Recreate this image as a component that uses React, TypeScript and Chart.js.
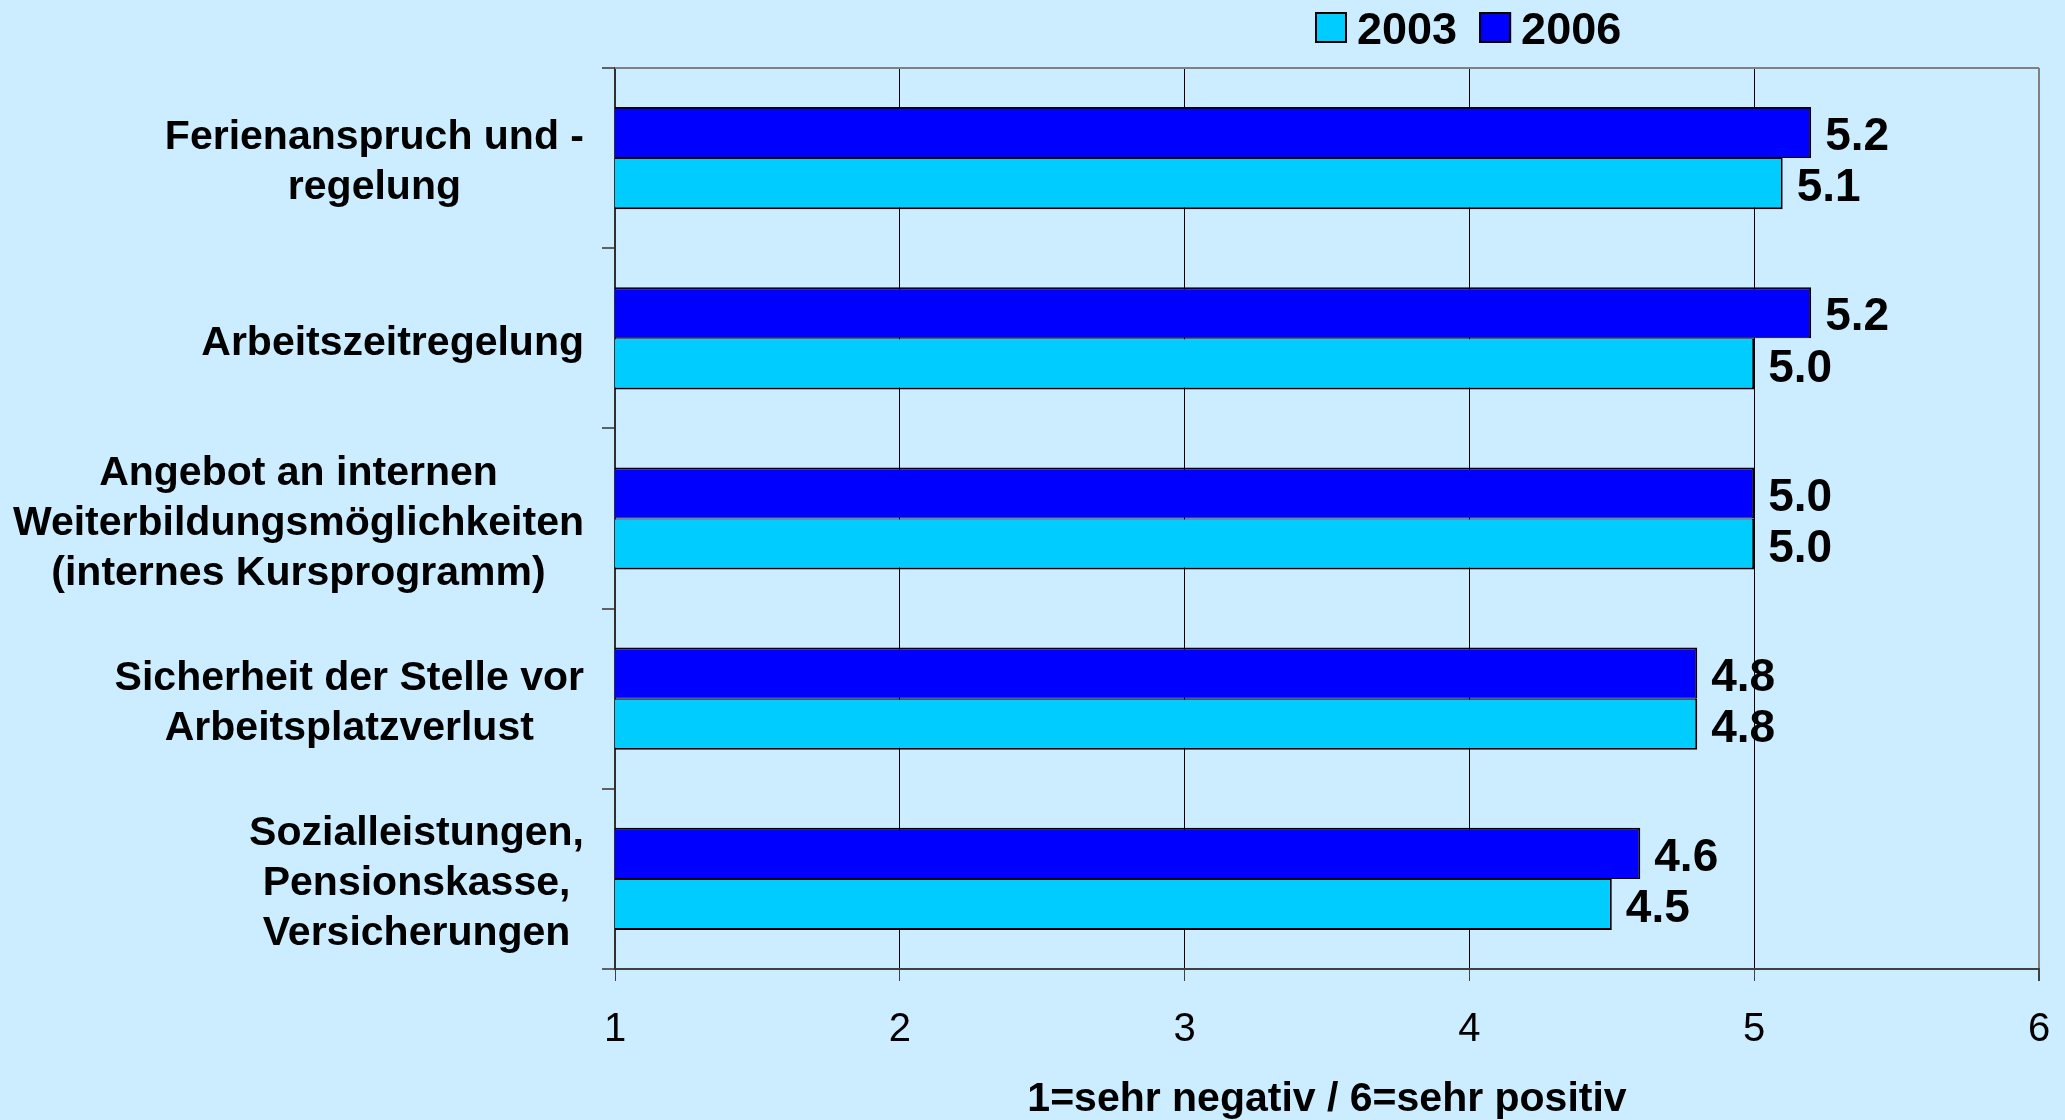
import React, { useEffect, useRef } from "react";
import { Chart, registerables } from "chart.js";

Chart.register(...registerables);

// ---- data ----
const categories: string[][] = [
  ["Ferienanspruch und -", "regelung"],
  ["Arbeitszeitregelung"],
  ["Angebot an internen", "Weiterbildungsmöglichkeiten", "(internes Kursprogramm)"],
  ["Sicherheit der Stelle vor", "Arbeitsplatzverlust"],
  ["Sozialleistungen,", "Pensionskasse,", "Versicherungen"],
];
const values2006 = [5.2, 5.2, 5.0, 4.8, 4.6];
const values2003 = [5.1, 5.0, 5.0, 4.8, 4.5];
const seriesNames = ["2006", "2003"];
const xMin = 1;
const xMax = 6;
const axisTitle = "1=sehr negativ / 6=sehr positiv";

// ---- styles ----
const BG = "#CCECFF";
const COLOR_2006 = "#0000FF";
const COLOR_2003 = "#00CCFF";
const FAMILY = '"Liberation Sans", Arial, Helvetica, sans-serif';

const bgPlugin = {
  id: "bg",
  beforeDraw(chart: any) {
    const { ctx, width, height } = chart;
    ctx.save();
    ctx.fillStyle = BG;
    ctx.fillRect(0, 0, width, height);
    ctx.restore();
  },
};

const valueLabelPlugin = {
  id: "valueLabels",
  afterDatasetsDraw(chart: any) {
    const { ctx } = chart;
    ctx.save();
    ctx.font = `bold 46px ${FAMILY}`;
    ctx.fillStyle = "#000";
    ctx.textAlign = "left";
    ctx.textBaseline = "middle";
    chart.data.datasets.forEach((ds: any, di: number) => {
      const meta = chart.getDatasetMeta(di);
      meta.data.forEach((el: any, i: number) => {
        const v = ds.data[i] as number;
        ctx.fillText(v.toFixed(1), el.x + 14, el.y + 5);
      });
    });
    ctx.restore();
  },
};

const decorPlugin = {
  id: "decor",
  afterDraw(chart: any) {
    const { ctx, chartArea } = chart;
    const yScale = chart.scales.y;
    ctx.save();
    // top frame line
    ctx.strokeStyle = "#808080";
    ctx.lineWidth = 2;
    ctx.beginPath();
    ctx.moveTo(chartArea.left, chartArea.top);
    ctx.lineTo(chartArea.right, chartArea.top);
    ctx.stroke();

    // category labels: centered block, right-aligned to axis
    ctx.font = `bold 41px ${FAMILY}`;
    ctx.fillStyle = "#000";
    ctx.textAlign = "center";
    ctx.textBaseline = "middle";
    const right = chartArea.left - 31;
    const lh = 50;
    (chart.data.labels as string[][]).forEach((lines, i) => {
      const cy = yScale.getPixelForValue(i);
      let w = 0;
      lines.forEach((l) => (w = Math.max(w, ctx.measureText(l).width)));
      const cx = right - w / 2;
      const y0 = cy - ((lines.length - 1) * lh) / 2;
      lines.forEach((l, k) => ctx.fillText(l, cx, y0 + k * lh + 5));
    });

    // legend (2003 first, then 2006)
    const items = chart.data.datasets.slice().reverse();
    let x = 1315;
    ctx.textAlign = "left";
    ctx.textBaseline = "alphabetic";
    ctx.font = `bold 45px ${FAMILY}`;
    items.forEach((ds: any) => {
      ctx.fillStyle = ds.backgroundColor;
      ctx.fillRect(x, 12, 32, 31);
      ctx.strokeStyle = "#000";
      ctx.lineWidth = 2;
      ctx.strokeRect(x + 1, 13, 30, 29);
      ctx.fillStyle = "#000";
      ctx.fillText(ds.label, x + 42, 44);
      x += 42 + ctx.measureText(ds.label).width + 22;
    });
    ctx.restore();
  },
};

export default function App() {
  const ref = useRef<HTMLCanvasElement | null>(null);

  useEffect(() => {
    if (!ref.current) return;
    const chart = new Chart(ref.current, {
      type: "bar",
      data: {
        labels: categories as any,
        datasets: [
          {
            label: seriesNames[0],
            data: values2006,
            backgroundColor: COLOR_2006,
            borderColor: "#000",
            borderWidth: { top: 2, bottom: 1, left: 2, right: 2 } as any,
            borderSkipped: false,
            barPercentage: 1,
            categoryPercentage: 0.567,
          },
          {
            label: seriesNames[1],
            data: values2003,
            backgroundColor: COLOR_2003,
            borderColor: "#000",
            borderWidth: { top: 1, bottom: 2, left: 2, right: 2 } as any,
            borderSkipped: false,
            barPercentage: 1,
            categoryPercentage: 0.567,
          },
        ],
      },
      options: {
        indexAxis: "y",
        responsive: false,
        animation: false,
        devicePixelRatio: 1,
        layout: { padding: { top: 68, right: 26, left: 0, bottom: 0 } },
        plugins: {
          legend: { display: false },
          tooltip: { enabled: false },
          title: { display: false },
        },
        scales: {
          x: {
            type: "linear",
            min: xMin,
            max: xMax,
            ticks: {
              stepSize: 1,
              color: "#000",
              padding: 25,
              font: { family: FAMILY, size: 40 },
            },
            grid: {
              color: (c: any) =>
                c.tick && c.tick.value === xMax ? "#808080" : "#000000",
              lineWidth: (c: any) => (c.tick && c.tick.value === xMax ? 2 : 1),
              tickColor: "#404040",
              tickLength: 12,
              drawTicks: true,
            },
            border: { display: true, color: "#404040", width: 2 },
            title: {
              display: true,
              text: axisTitle,
              color: "#000",
              font: { family: FAMILY, size: 41, weight: "bold" },
              padding: { top: 0, bottom: -4 },
            },
            afterFit: (s: any) => {
              s.height = 151;
              s.paddingRight = 0;
              s.paddingLeft = 0;
            },
          },
          y: {
            type: "category",
            ticks: { display: false },
            grid: {
              offset: true,
              drawOnChartArea: false,
              drawTicks: true,
              tickLength: 13,
              tickColor: "#606060",
              color: "#606060",
              lineWidth: 2,
            },
            border: { display: true, color: "#303030", width: 2 },
            afterFit: (s: any) => {
              s.width = 615;
            },
          },
        },
      },
      plugins: [bgPlugin, valueLabelPlugin, decorPlugin],
    });
    return () => chart.destroy();
  }, []);

  return (
    <div
      style={{
        position: "fixed",
        left: 0,
        top: 0,
        width: 2065,
        height: 1120,
        background: BG,
      }}
    >
      <canvas ref={ref} width={2065} height={1120} style={{ width: 2065, height: 1120, display: "block" }} />
    </div>
  );
}
